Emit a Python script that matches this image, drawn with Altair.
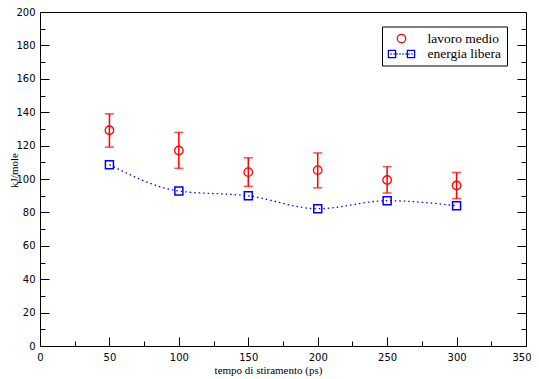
import altair as alt
import pandas as pd

# ---- data ----
x_ps = [50, 100, 150, 200, 250, 300]
lavoro_medio = [129.2, 117.1, 104.1, 105.3, 99.4, 96.1]
lavoro_hi = [139.0, 127.9, 112.7, 115.6, 107.4, 103.9]
lavoro_lo = [119.1, 106.4, 95.6, 94.7, 91.6, 88.3]
energia_libera = [108.6, 92.8, 89.9, 82.2, 87.0, 84.0]
series_names = ["lavoro medio", "energia libera"]
x_ticks = list(range(0, 351, 25))
y_ticks = list(range(0, 201, 10))

df = pd.DataFrame({"t": x_ps, "lav": lavoro_medio, "hi": lavoro_hi,
                   "lo": lavoro_lo, "en": energia_libera})
leg_df = pd.DataFrame({"series": series_names})

RED = "#ff0000"
BLUE = "#0000ff"

xs = alt.Scale(domain=[0, 350], nice=False, zero=False)
ys = alt.Scale(domain=[0, 200], nice=False, zero=False)

x_axis = alt.Axis(
    orient="bottom", values=x_ticks,
    labelExpr="datum.value % 50 === 0 ? datum.label : ''",
    tickSize={"expr": "datum.value % 50 === 0 ? -9 : -5"},
    labelAlign={"condition": {"test": "datum.value === 350", "value": "right"}, "value": "center"},
    labelOffset={"condition": {"test": "datum.value === 350", "value": 5}, "value": 0},
    labelPadding=15, labelFlush=False, labelOverlap=False,
    title="tempo di stiramento (ps)", titleX=228, titleY=24,
    titleBaseline="middle", titleAlign="center",
)
y_axis_left = alt.Axis(
    orient="left", values=y_ticks,
    labelExpr="datum.value % 20 === 0 ? datum.label : ''",
    tickSize={"expr": "datum.value % 20 === 0 ? -9 : -5"},
    labelPadding=14, labelFlush=False, labelOverlap=False,
    title="kJ/mole", titleX=-25.5, titleY=158,
    titleBaseline="middle", titleAlign="center",
)
y_axis_right = alt.Axis(
    orient="right", values=y_ticks, labels=False, title=None,
    tickSize={"expr": "datum.value % 20 === 0 ? -9 : -5"},
)

# legend symbols (unit coordinates, 1 unit = sqrt(symbolSize)/2 = 6 px)
r = 0.7
circle_path = f"M{r},0 A{r},{r} 0 1,1 -{r},0 A{r},{r} 0 1,1 {r},0 Z"
h = 1.2
dots = " ".join(f"M{c - 0.1:.3f},0 h0.2" for c in [-1.73, -1.24, -0.74, -0.25, 0.25, 0.74, 1.24, 1.73])
square_line_path = (f"M-2.183,-0.6 h{h} v{h} h-{h} Z "
                    f"M0.983,-0.6 h{h} v{h} h-{h} Z " + dots)

base = alt.Chart(df)

rule = base.mark_rule(color=RED, strokeWidth=1.5).encode(
    x=alt.X("t:Q", scale=xs, axis=None),
    y=alt.Y("lo:Q", scale=ys, axis=y_axis_left),
    y2="hi:Q",
)
cap_hi = base.mark_tick(color=RED, orient="horizontal", size=9, thickness=1.5).encode(
    x=alt.X("t:Q", scale=xs, axis=None),
    y=alt.Y("hi:Q", scale=ys, axis=None),
)
cap_lo = base.mark_tick(color=RED, orient="horizontal", size=9, thickness=1.5).encode(
    x=alt.X("t:Q", scale=xs, axis=None),
    y=alt.Y("lo:Q", scale=ys, axis=None),
)
circles = base.mark_point(shape="circle", filled=False, color=RED, size=72,
                          strokeWidth=1.3, opacity=1).encode(
    x=alt.X("t:Q", scale=xs, axis=x_axis),
    y=alt.Y("lav:Q", scale=ys, axis=None),
)
line = base.mark_line(color=BLUE, strokeDash=[1.5, 3], strokeWidth=1.3,
                      interpolate="monotone").encode(
    x=alt.X("t:Q", scale=xs, axis=None),
    y=alt.Y("en:Q", scale=ys, axis=y_axis_right),
)
squares = base.mark_point(shape="square", filled=False, color=BLUE, size=64,
                          strokeWidth=1.5, opacity=1).encode(
    x=alt.X("t:Q", scale=xs, axis=None),
    y=alt.Y("en:Q", scale=ys, axis=None),
)

legend = alt.Legend(
    title=None, orient="none", legendX=342, legendY=14.5,
    strokeColor="black", fillColor="white", padding=5,
    symbolSize=144, symbolStrokeWidth=1.3, symbolOpacity=1,
    symbolOffset=7.5, labelOffset=19, rowPadding=1.5,
    labelFont="Liberation Serif", labelFontSize=13.5, labelColor="black",
)
legend_layer = alt.Chart(leg_df).mark_point(filled=False, opacity=0, size=144).encode(
    color=alt.Color("series:N", scale=alt.Scale(domain=series_names, range=[RED, BLUE]),
                    legend=legend),
    shape=alt.Shape("series:N", scale=alt.Scale(domain=series_names,
                                                range=[circle_path, square_line_path]),
                    legend=legend),
)

chart = alt.layer(rule, cap_hi, cap_lo, line, squares, circles, legend_layer).resolve_axis(
    x="independent", y="independent"
).properties(
    width=486, height=334,
    autosize=alt.AutoSizeParams(type="none"),
    padding={"left": 32, "top": 4, "right": 5, "bottom": 33},
    background="white",
).configure_view(
    stroke="black", strokeWidth=1,
).configure_axis(
    labelFont="DejaVu Sans", labelFontSize=10, labelColor="black",
    titleFont="Liberation Serif", titleFontSize=11, titleFontWeight="normal",
    titleColor="black", tickColor="black", tickWidth=1, domain=False, grid=False,
).configure_legend(
    strokeWidth=1,
)

chart.save("out.html", embed_options={"renderer": "svg", "actions": False})
